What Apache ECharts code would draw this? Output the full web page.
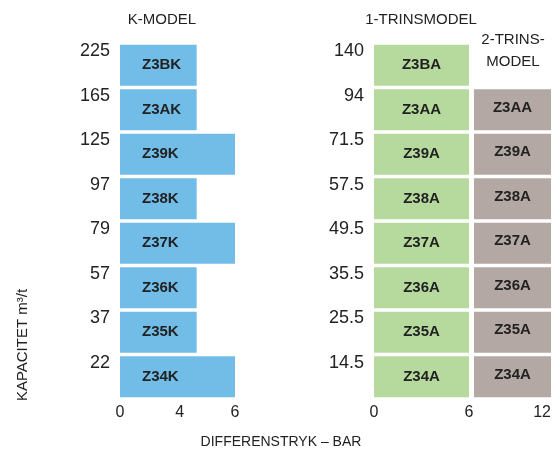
<!DOCTYPE html>
<html>
<head>
<meta charset="utf-8">
<script src="https://cdn.jsdelivr.net/npm/echarts@6/dist/echarts.min.js"></script>
<style>
	html, body { margin: 0; padding: 0; background: #fff; }
	#chart { width: 560px; height: 450px; }
</style>
</head>
<body>
<div id="chart"></div>
<script>
// capacity labels (m3/t), top to bottom
var kCapacity = ['225', '165', '125', '97', '79', '57', '37', '22'];
var aCapacity = ['140', '94', '71.5', '57.5', '49.5', '35.5', '25.5', '14.5'];

// model names
var kModels = ['Z3BK', 'Z3AK', 'Z39K', 'Z38K', 'Z37K', 'Z36K', 'Z35K', 'Z34K'];
var aModels = ['Z3BA', 'Z3AA', 'Z39A', 'Z38A', 'Z37A', 'Z36A', 'Z35A', 'Z34A'];

// differential pressure (bar)
var kPressure = [4, 4, 6, 4, 6, 4, 4, 6];
var onePressure = [6, 6, 6, 6, 6, 6, 6, 6];
var twoPressure = [null, 12, 12, 12, 12, 12, 12, 12];

var kTicks = [0, 4, 6];

var font = '"Liberation Sans", Arial, sans-serif';
var ink = '#222';

var chart = echarts.init(document.getElementById('chart'));

var gridTop = 43, gridHeight = 356;

function catAxis(idx, labels, show) {
	return {
		type: 'category',
		gridIndex: idx,
		inverse: true,
		data: labels,
		axisLine: { show: false },
		axisTick: { show: false },
		axisLabel: {
			show: show,
			margin: 10,
			formatter: v => '{c|' + v + '}',
			rich: {
				// lift the label to the top of the row
				c: { color: ink, fontFamily: font, fontSize: 18, padding: [0, 0, 28, 0] }
			}
		}
	};
}

function barLabel(names, pos, extra) {
	return Object.assign({
		show: true,
		position: pos,
		color: ink,
		fontFamily: font,
		fontSize: 15,
		fontWeight: 'bold',
		formatter: p => names[p.dataIndex]
	}, extra || {});
}

var option = {
	animation: false,
	grid: [
		{ left: 120, width: 115, top: gridTop, height: gridHeight },
		{ left: 374, width: 95, top: gridTop, height: gridHeight },
		{ left: 474, width: 77, top: gridTop, height: gridHeight }
	],
	xAxis: [
		{
			type: 'value', gridIndex: 0, min: 0, max: 6,
			splitLine: { show: false }, axisLine: { show: false }, axisTick: { show: false },
			axisLabel: {
				customValues: kTicks,
				margin: 6,
				color: ink, fontFamily: font, fontSize: 16,
				formatter: v => v === 4 ? '{s|4}' : String(v),
				rich: { s: { color: ink, fontFamily: font, fontSize: 16, padding: [0, 34, 0, 0] } }
			}
		},
		{
			type: 'value', gridIndex: 1, min: 0, max: 6,
			splitLine: { show: false }, axisLine: { show: false }, axisTick: { show: false },
			axisLabel: { customValues: [0, 6], margin: 6, color: ink, fontFamily: font, fontSize: 16 }
		},
		{
			type: 'value', gridIndex: 2, min: 6, max: 12,
			splitLine: { show: false }, axisLine: { show: false }, axisTick: { show: false },
			axisLabel: {
				customValues: [12], margin: 6, color: ink, fontFamily: font, fontSize: 16,
				align: 'right'
			}
		}
	],
	yAxis: [
		catAxis(0, kCapacity, true),
		catAxis(1, aCapacity, true),
		catAxis(2, aCapacity, false)
	],
	series: [
		{
			type: 'bar', xAxisIndex: 0, yAxisIndex: 0,
			data: kPressure,
			barCategoryGap: '7.5%',
			itemStyle: { color: '#72bde8' },
			label: barLabel(kModels, 'insideLeft', { distance: 22 })
		},
		{
			type: 'bar', xAxisIndex: 1, yAxisIndex: 1,
			data: onePressure,
			barCategoryGap: '7.5%',
			itemStyle: { color: '#b6da9e' },
			label: barLabel(aModels, 'inside')
		},
		{
			type: 'bar', xAxisIndex: 2, yAxisIndex: 2,
			data: twoPressure,
			barCategoryGap: '7.5%',
			itemStyle: { color: '#b3a8a3' },
			label: barLabel(aModels, 'inside', { offset: [0, -2] })
		}
	],
	graphic: [
		{ type: 'text', x: 162, y: 20, style: { text: 'K-MODEL', fill: ink, font: '15px ' + font, align: 'center', verticalAlign: 'middle' } },
		{ type: 'text', x: 421, y: 20, style: { text: '1-TRINSMODEL', fill: ink, font: '15px ' + font, align: 'center', verticalAlign: 'middle' } },
		{ type: 'text', x: 513, y: 51, style: { text: '2-TRINS-\nMODEL', fill: ink, font: '15px ' + font, lineHeight: 22, align: 'center', verticalAlign: 'middle' } },
		{ type: 'text', x: 281, y: 442, style: { text: 'DIFFERENSTRYK – BAR', fill: ink, font: '14px ' + font, align: 'center', verticalAlign: 'middle' } },
		{ type: 'text', x: 23, y: 345, rotation: Math.PI / 2, style: { text: 'KAPACITET m³/t', fill: ink, font: '15px ' + font, align: 'center', verticalAlign: 'middle' } }
	]
};

chart.setOption(option);
</script>
</body>
</html>
